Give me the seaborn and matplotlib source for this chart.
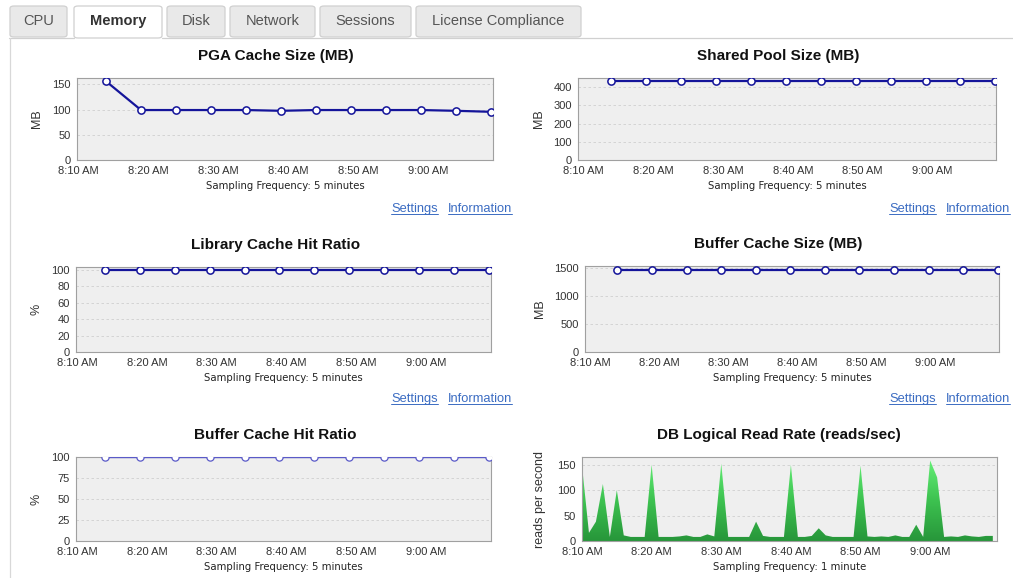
import numpy as np
import pandas as pd
import matplotlib
matplotlib.use("Agg")
import matplotlib.pyplot as plt
from matplotlib.patches import FancyBboxPatch
from matplotlib.lines import Line2D
from matplotlib.colors import LinearSegmentedColormap
import seaborn as sns

# ---------------- data ----------------
tab_names = ["CPU", "Memory", "Disk", "Network", "Sessions", "License Compliance"]
active_tab = "Memory"

tick_minutes = [10, 20, 30, 40, 50, 60]          # minutes after 8:00
tick_labels = ["8:10 AM", "8:20 AM", "8:30 AM", "8:40 AM", "8:50 AM", "9:00 AM"]

sample_minutes_5 = [14, 19, 24, 29, 34, 39, 44, 49, 54, 59, 64, 69]
pga_cache_mb = [156, 99, 99, 99, 99, 97.5, 99, 99, 99, 99, 97.5, 95.5]
shared_pool_mb = [434, 434, 434, 434, 434, 434, 434, 434, 434, 434, 434, 434]
library_hit_pct = [100, 100, 100, 100, 100, 100, 100, 100, 100, 100, 100, 100]
buffer_size_mb = [1455, 1455, 1455, 1455, 1455, 1455, 1455, 1455, 1455, 1455, 1455, 1455]
buffer_hit_pct = [100, 100, 100, 100, 100, 100, 100, 100, 100, 100, 100, 100]

sample_minutes_1 = list(range(10, 70))
logical_reads = [148, 16, 38, 112, 8, 100, 11, 8, 8, 8,
                 150, 8, 8, 8, 9, 11, 8, 8, 13, 9,
                 152, 8, 8, 8, 8, 38, 10, 8, 8, 8,
                 150, 8, 8, 10, 25, 11, 8, 8, 8, 8,
                 148, 9, 8, 9, 8, 11, 8, 8, 32, 8,
                 158, 125, 8, 9, 8, 11, 9, 8, 10, 10]

# ---------------- style ----------------
sns.set_style("white")
plt.rcParams["font.family"] = ["Liberation Sans", "DejaVu Sans"]

W, H = 1013, 578
fig = plt.figure(figsize=(W / 100, H / 100), dpi=100)
fig.patch.set_facecolor("white")

def fx(px):
    return px / W

def fy(py):
    return 1 - py / H

# ---------------- tabs ----------------
tab_bounds = [(10, 67), (74, 162), (167, 225), (230, 315), (320, 411), (416, 581)]
tab_top, tab_bot = 6, 37
for name, (l, r) in zip(tab_names, tab_bounds):
    active = name == active_tab
    fc = "white" if active else "#e9e9e9"
    bot = tab_bot + (1 if active else 0)
    p = FancyBboxPatch((fx(l), fy(bot)), fx(r - l), (bot - tab_top) / H,
                       boxstyle="round,pad=0,rounding_size=0.004",
                       transform=fig.transFigure, facecolor=fc,
                       edgecolor="#d0d0d0", linewidth=0.9, zorder=2)
    fig.add_artist(p)
    fig.text(fx((l + r) / 2), fy(21), name, ha="center", va="center",
             fontsize=10.5, color="#333333" if active else "#555555",
             weight="bold" if active else "normal", zorder=3)
# content border
fig.add_artist(Line2D([fx(9), fx(74)], [fy(37.5), fy(37.5)], transform=fig.transFigure,
                      color="#d0d0d0", lw=0.9, zorder=1))
fig.add_artist(Line2D([fx(162), fx(1013)], [fy(37.5), fy(37.5)], transform=fig.transFigure,
                      color="#d0d0d0", lw=0.9, zorder=1))
fig.add_artist(Line2D([fx(9.5), fx(9.5)], [fy(37.5), fy(578)], transform=fig.transFigure,
                      color="#d8d8d8", lw=0.9, zorder=1))

# ---------------- panels ----------------
LINE = "#14149a"

def make_axes(l, r, t, b, xlim, ylim, yticks, ylabel, ylabel_x, title, title_cx, sampling):
    ax = fig.add_axes([fx(l), fy(b), (r - l) / W, (b - t) / H])
    ax.set_facecolor("#efefef")
    ax.set_xlim(*xlim)
    ax.set_ylim(*ylim)
    ax.set_yticks(yticks)
    ax.set_yticklabels([str(v) for v in yticks])
    ax.set_xticks(tick_minutes)
    ax.set_xticklabels(tick_labels)
    ax.tick_params(axis="both", labelsize=8, colors="#333333", length=3, width=0.7,
                   direction="out", pad=1.5)
    ax.tick_params(axis="x", pad=1)
    for s in ax.spines.values():
        s.set_color("#a0a0a0")
        s.set_linewidth(0.8)
    ax.yaxis.grid(True, color="#cfcfcf", linestyle=(0, (3, 3)), linewidth=0.6)
    ax.xaxis.grid(False)
    ax.set_axisbelow(True)
    ax._ylabel_info = (ylabel, (ylabel_x + 5 - l) / (r - l))
    fig.text(fx(title_cx), fy(t - 22), title, ha="center", va="center",
             fontsize=11, weight="bold", color="#111111")
    fig.text(fx((l + r) / 2), fy(b + 26), sampling, ha="center", va="center",
             fontsize=7.3, color="#222222", family="DejaVu Sans")
    return ax

def finish_ylabel(ax):
    lab, xc = ax._ylabel_info
    ax.set_xlabel("")
    ax.set_ylabel(lab, fontsize=9, color="#333333")
    ax.yaxis.set_label_coords(xc, 0.5)

def line_series(ax, x, y, color=LINE, lw=1.6, ms=5.2, mew=1.1):
    df = pd.DataFrame({"t": x, "v": y})
    sns.lineplot(data=df, x="t", y="v", ax=ax, color=color, linewidth=lw,
                 marker="o", markersize=ms, markerfacecolor="white",
                 markeredgecolor=color, markeredgewidth=mew, zorder=3)

links = []
def add_links(settings_x, info_x, y):
    t1 = fig.text(fx(settings_x), fy(y), "Settings", ha="left", va="center",
                  fontsize=9.3, color="#3b6cc2")
    t2 = fig.text(fx(info_x), fy(y), "Information", ha="left", va="center",
                  fontsize=9.3, color="#3b6cc2")
    links.extend([t1, t2])

# Row 1
ax1 = make_axes(77, 493, 78, 160, (9.85, 69.3), (0, 162.5), [0, 50, 100, 150], "MB", 38,
                "PGA Cache Size (MB)", 276, "Sampling Frequency: 5 minutes")
line_series(ax1, sample_minutes_5, pga_cache_mb)
add_links(391, 448, 209)

ax2 = make_axes(578, 996, 78, 160, (9.2, 69.1), (0, 451), [0, 100, 200, 300, 400], "MB", 540,
                "Shared Pool Size (MB)", 778.5, "Sampling Frequency: 5 minutes")
line_series(ax2, sample_minutes_5, shared_pool_mb)
add_links(889, 946, 209)

# Row 2
ax3 = make_axes(76, 491, 267, 352, (9.85, 69.3), (0, 103.5), [0, 20, 40, 60, 80, 100], "%", 38,
                "Library Cache Hit Ratio", 275.5, "Sampling Frequency: 5 minutes")
line_series(ax3, sample_minutes_5, library_hit_pct)
add_links(391, 448, 399)

ax4 = make_axes(585, 999, 266, 352, (9.3, 69.2), (0, 1530), [0, 500, 1000, 1500], "MB", 541,
                "Buffer Cache Size (MB)", 778.5, "Sampling Frequency: 5 minutes")
line_series(ax4, sample_minutes_5, buffer_size_mb)
add_links(889, 946, 399)

# Row 3
ax5 = make_axes(76, 491, 457, 541, (9.85, 69.3), (0, 100), [0, 25, 50, 75, 100], "%", 38,
                "Buffer Cache Hit Ratio", 275.5, "Sampling Frequency: 5 minutes")
line_series(ax5, sample_minutes_5, buffer_hit_pct, color="#5a5ac8", lw=1.0, ms=5.2, mew=0.9)

ax6 = make_axes(582, 997, 457, 541, (10, 69.6), (0, 165), [0, 50, 100, 150], "reads per second", 541,
                "DB Logical Read Rate (reads/sec)", 778.5, "Sampling Frequency: 1 minute")
poly = ax6.fill_between(sample_minutes_1, 0, logical_reads, facecolor="none", edgecolor="none")
grad = np.linspace(0, 1, 256).reshape(-1, 1)
cmap = LinearSegmentedColormap.from_list("g", ["#27963a", "#3dc250", "#66f078"])
im = ax6.imshow(grad, extent=[10, 69, 0, 160], origin="lower", aspect="auto",
                cmap=cmap, zorder=2)
im.set_clip_path(poly.get_paths()[0], transform=ax6.transData)
ax6.set_xlim(10, 69.6)
ax6.set_ylim(0, 165)

for ax in [ax1, ax2, ax3, ax4, ax5, ax6]:
    finish_ylabel(ax)
    for lab in ax.get_xticklabels() + ax.get_yticklabels():
        lab.set_fontsize(8)

# underlines for links
fig.canvas.draw()
rend = fig.canvas.get_renderer()
for t in links:
    bb = t.get_window_extent(rend)
    y = bb.y0 + 1.5
    fig.add_artist(Line2D([bb.x0 / W, bb.x1 / W], [y / H, y / H], transform=fig.transFigure,
                          color="#3b6cc2", lw=0.7))

fig.savefig("out.png", dpi=100, facecolor="white")
